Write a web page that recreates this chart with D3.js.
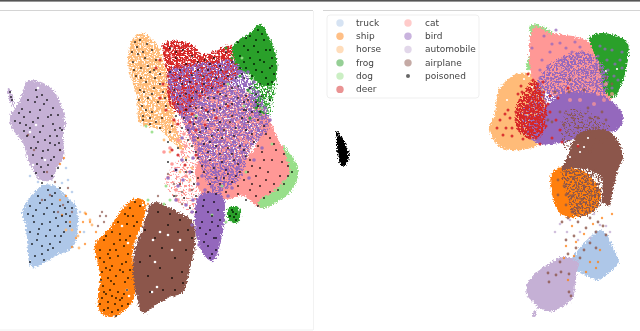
<!DOCTYPE html>
<html>
<head>
<meta charset="utf-8">
<script src="https://cdn.jsdelivr.net/npm/d3@7"></script>
<style>
  html, body { margin: 0; padding: 0; background: #fff; }
  svg { display: block; }
  text { font-family: "DejaVu Sans", sans-serif; }
</style>
</head>
<body>
<div id="chart"></div>
<script>
// legend order, two columns
const classNames = ["truck", "ship", "horse", "frog", "dog", "deer", "cat", "bird", "automobile", "airplane", "poisoned"];
const classColors = ["#aec7e8", "#ff7f0e", "#ffbb78", "#2ca02c", "#98df8a", "#d62728", "#ff9896", "#9467bd", "#c5b0d5", "#8c564b", "#000000"];

// cluster outlines, embedding units
const leftAutomobile = [[37,81],[46,85],[53,90],[62,107],[65,122],[63,137],[64,157],[57,168],[52,180],[40,180],[33,170],[28,160],[23,143],[12,128],[10,117],[20,100],[28,81]];
const leftAutoTail = [[8,88],[10,89],[14,104],[12,106]];
const leftTruck = [[22,212],[43,185],[55,186],[63,193],[75,205],[78,222],[72,248],[57,255],[32,267],[27,238],[25,222]];
const leftShip = [[137,198],[145,203],[143,222],[133,248],[134,298],[123,312],[110,317],[99,310],[100,275],[95,245],[110,228],[123,208]];
const leftAirplane = [[157,202],[170,208],[193,222],[195,245],[190,268],[183,292],[170,297],[160,302],[143,313],[137,298],[133,275],[135,248],[143,228],[150,205]];
const leftHorse = [[142,33],[157,45],[166,70],[172,100],[176,125],[184,150],[173,143],[160,130],[140,123],[137,97],[128,63],[132,40]];
const leftDeer = [[163,44],[173,41],[190,43],[203,54],[217,50],[232,46],[240,70],[225,85],[205,95],[185,115],[170,105],[167,72]];
const leftMid = [[174,95],[190,85],[230,85],[262,105],[268,125],[250,150],[240,178],[215,192],[205,178],[195,150],[182,120]];
const leftBird = [[168,72],[190,64],[215,62],[233,60],[250,80],[262,100],[270,125],[250,150],[240,178],[215,192],[205,178],[195,150],[182,120],[172,100]];
const leftBirdTail = [[200,195],[222,195],[222,235],[213,261],[204,255],[195,225]];
const leftCat = [[265,113],[280,143],[296,165],[297,178],[288,192],[262,208],[243,196],[225,200],[205,199],[195,172],[200,160],[230,165],[255,148]];
const leftSparse = [[172,118],[190,125],[200,160],[205,195],[196,215],[176,200],[165,180],[182,150]];
const leftDog = [[283,146],[298,167],[298,176],[290,192],[262,208],[258,202],[278,188],[290,172]];
const leftFrog = [[260,24],[268,35],[276,55],[277,73],[272,85],[262,85],[250,75],[240,70],[232,50],[235,43],[250,33]];
const leftFrogLow = [[250,72],[275,72],[273,100],[268,116],[256,112],[252,92]];
const leftFrogSmall = [[230,207],[238,207],[240,218],[235,224],[227,216]];

const rightHorse = [[520,73],[540,80],[540,143],[502,148],[490,130],[495,113],[500,88]];
const rightDog = [[531,25],[550,30],[553,37],[534,67],[527,70],[531,45]];
const rightCat = [[534,27],[550,33],[577,37],[590,43],[607,67],[613,97],[590,110],[537,83],[530,67]];
const rightFrog = [[590,37],[603,33],[627,42],[628,57],[623,80],[613,98],[604,90],[600,65],[592,48]];
const rightDeer = [[533,80],[545,100],[545,128],[538,138],[520,134],[516,108],[525,90]];
const rightBird = [[553,62],[587,52],[607,73],[607,100],[622,113],[620,127],[607,133],[573,140],[537,143],[520,125],[533,90]];
const rightBirdLow = [[560,95],[600,95],[622,113],[620,127],[607,133],[573,140],[537,143],[528,125],[545,110]];
const rightAirplane = [[610,132],[623,155],[618,170],[612,195],[610,205],[602,202],[603,192],[600,175],[575,168],[562,170],[567,157],[580,133]];
const rightAirTop = [[566,110],[600,118],[612,132],[590,150],[565,150]];
const rightShip = [[558,168],[570,168],[585,172],[600,190],[600,198],[595,210],[577,217],[562,215],[553,198],[551,175]];
const rightAirOverShip = [[563,168],[600,172],[604,195],[595,212],[575,216],[566,192]];
const rightTruck = [[600,230],[607,235],[613,248],[619,262],[610,272],[597,280],[580,272],[568,268],[578,250],[590,238]];
const rightAutomobile = [[563,257],[578,262],[577,272],[575,285],[573,298],[560,308],[548,312],[538,308],[535,317],[532,315],[537,307],[527,295],[528,282],[542,268],[552,262]];
const poisonBlob = [[337,131],[345,143],[349,155],[347,163],[342,166],[338,157],[337,143]];

// gaps seen inside the clusters
const leftWhite = [[150,97],[146,103],[155,108],[148,118],[160,112],[178,130],[172,135],[172,48],[167,53],[153,240],[160,232],[155,262],[172,250],[168,235],[180,240],[152,292],[157,287],[127,290],[129,296],[143,205],[147,213],[38,88],[36,125],[30,132],[45,160],[33,165],[122,226],[128,243]];
const rightWhite = [[573,140],[578,145],[584,147],[580,152],[588,138],[524,79],[529,76],[507,100],[532,87],[606,71],[617,69],[570,157]];

// scattered class points
const leftBirdPts = [[176,70],[183,74],[170,82],[192,68],[198,78],[206,72],[178,88],[188,92],[196,96],[172,97],[180,107],[190,110],[200,104],[210,92],[220,80],[228,68],[238,72],[245,84],[232,92],[214,106],[224,112],[238,104],[252,98],[256,116],[244,124],[228,126],[212,124],[198,122],[206,138],[220,142],[234,142],[248,138],[258,130],[214,154],[226,158],[200,150],[188,128],[194,140],[205,162],[216,172],[202,176],[212,186],[232,172],[205,190],[220,190],[198,184],[190,172],[182,160],[176,200],[186,205],[192,212],[198,200],[208,204],[214,212],[206,222],[216,228],[204,236],[212,246],[218,240],[200,214],[210,252],[193,200],[178,186],[168,178],[176,170],[183,180],[240,160],[254,160],[262,148],[232,188],[244,150],[262,118],[250,110],[240,116],[216,96],[204,116],[186,100],[198,88],[236,132],[222,134],[208,146],[187,118],[182,138],[193,158],[203,128],[215,142],[226,168],[238,168],[249,178],[232,150],[243,92],[255,105],[265,108],[270,120],[258,92],[248,72],[254,82],[234,80],[224,98],[193,128],[180,95],[220,200],[228,196],[192,225],[197,232],[199,245]];
const leftDeerPts = [[165,52],[172,46],[180,48],[188,46],[195,50],[202,58],[210,56],[218,52],[228,48],[170,62],[178,60],[186,58],[194,62],[202,68],[212,62],[222,58],[168,76],[176,80],[186,76],[196,84],[208,80],[184,88],[170,92],[190,100],[180,112],[200,96],[174,120],[190,122],[212,72],[178,66],[160,60],[156,68],[163,84],[160,98],[196,130],[206,110],[218,92],[226,72],[172,150],[185,165],[178,155],[196,155],[178,124],[205,125],[216,118],[228,106],[192,114],[166,110],[174,104]];
const leftCatPts = [[178,140],[186,146],[170,148],[182,152],[196,148],[210,132],[224,150],[240,138],[258,122],[262,138],[268,158],[250,170],[270,180],[240,188],[226,178],[208,168],[232,196],[250,196],[190,190],[178,200],[198,166],[172,164],[186,176],[164,152],[256,188],[268,194],[278,162],[284,172],[176,190],[205,122],[220,118],[184,134],[246,142],[228,140],[238,122],[254,134],[214,128],[200,140],[198,110],[213,100],[262,128],[272,132]];
const leftDogPts = [[287,160],[292,170],[283,182],[275,190],[268,200],[246,172],[272,144],[164,204],[170,200],[148,200],[166,186],[212,215],[226,222],[262,108],[244,106],[228,84],[242,58],[250,92],[222,186],[146,126],[152,132],[196,116]];
const leftFrogPts = [[236,46],[244,60],[252,78],[258,92],[264,98],[270,88],[266,104],[256,108],[248,90],[240,76],[270,98],[272,78],[232,58],[226,48],[262,112],[250,118],[236,50],[258,100]];
const leftHorsePts = [[170,112],[160,118],[176,132],[180,148],[186,158],[170,152],[192,168],[180,172],[198,140],[164,140],[190,180],[85,213],[90,220],[78,236],[79,248],[72,230],[92,225],[66,230]];
const leftShipPts = [[86,214],[90,222],[96,232],[80,232],[85,244],[72,247],[76,238],[66,196],[60,200],[64,158],[60,164],[148,204],[141,211],[83,222],[62,215],[70,222]];
const leftAirplanePts = [[100,216],[104,222],[98,226],[106,216],[102,212],[63,205],[58,212],[50,195],[42,200],[68,188],[72,212],[176,196],[182,204],[174,184],[182,192],[168,174],[158,196],[192,190],[60,150],[28,135],[34,150],[47,172],[55,182]];
const leftTruckPts = [[68,180],[62,183],[72,192],[80,212],[84,232],[30,176],[38,182],[32,200],[66,168]];

const rightBirdPts = [[605,49],[598,56],[612,50],[622,52],[615,64],[607,60],[622,68],[618,80],[604,76],[612,88],[596,66],[580,47],[572,52],[560,43],[550,52],[542,60],[562,60],[584,70],[540,78],[532,48],[568,70],[596,84],[544,36],[556,30],[575,42],[600,46],[608,70],[590,58],[566,48],[552,44],[540,70],[548,66],[578,56],[614,76],[620,60]];
const rightCatPts = [[592,88],[598,94],[604,100],[588,80],[598,76],[612,94],[606,84],[576,76],[562,84],[580,100],[594,104],[570,100],[560,70]];
const rightDeerPts = [[533,80],[528,90],[536,92],[520,100],[526,106],[534,112],[542,104],[516,112],[524,118],[532,124],[540,120],[510,118],[518,126],[526,132],[536,138],[546,126],[550,112],[506,128],[500,120],[512,136],[530,138],[522,92],[544,92],[550,96],[538,84],[528,74],[558,98],[568,88],[560,130],[552,138],[578,146],[562,142],[540,144],[525,112],[530,104],[536,100],[519,110],[512,128],[503,135],[523,139],[545,112],[532,130],[541,132],[516,120],[521,86],[529,98],[539,110],[522,126],[536,118],[518,94],[548,104],[543,82],[508,110],[497,128],[505,114],[556,120]];
const rightAirplanePts = [[569,92],[584,90],[560,112],[573,118],[588,108],[598,118],[578,128],[564,125],[552,122],[584,140],[596,128],[606,120],[590,152],[574,160],[566,172],[574,178],[584,186],[564,186],[572,196],[582,200],[592,196],[566,205],[578,208],[598,190],[558,180],[568,218],[578,222],[562,222],[586,228],[596,232],[603,226],[590,243],[584,250],[596,248],[576,248],[568,254],[560,262],[580,258],[606,235],[556,275],[548,273],[561,272],[569,274],[549,282],[569,292],[571,296],[590,218],[598,222],[574,236],[566,240],[606,78],[612,84],[600,70],[570,80],[555,92],[548,120],[590,118],[602,112],[586,212],[572,212],[558,195],[590,205],[566,195]];
const rightShipPts = [[572,226],[584,234],[602,218],[566,246],[574,256],[564,258],[600,250],[598,262],[596,268],[590,262],[586,272],[568,280],[612,214],[593,224],[576,242]];
const rightGapPts = [[570,220],[560,224],[580,232],[590,238],[600,225],[606,226],[594,214],[567,232],[578,240],[555,232],[610,232]];

// poisoned samples, left panel only
const poisonPts = [[15,121],[20,123],[24,117],[30,112],[35,102],[42,95],[47,100],[53,108],[58,115],[36,90],[28,100],[22,109],[40,110],[48,117],[33,122],[43,126],[53,124],[60,128],[24,131],[30,128],[40,132],[50,136],[57,136],[62,130],[34,137],[45,140],[55,145],[60,150],[36,148],[48,150],[31,148],[42,158],[54,157],[37,164],[48,165],[58,168],[44,172],[36,173],[52,176],[10,92],[11,97],[12,100],
[42,183],[48,190],[55,193],[60,188],[38,196],[45,200],[52,204],[60,206],[68,202],[30,206],[36,210],[44,214],[54,212],[62,216],[28,214],[34,222],[42,224],[50,222],[58,226],[66,222],[72,208],[30,232],[38,234],[46,236],[55,236],[64,232],[70,226],[32,244],[42,246],[50,244],[60,242],[35,256],[42,254],[30,262],[48,250],[66,214],[52,196],
[135,202],[140,206],[130,208],[125,214],[133,216],[118,222],[127,224],[137,222],[112,232],[120,234],[130,236],[104,240],[114,244],[124,246],[100,250],[108,254],[118,256],[128,254],[104,262],[112,266],[122,264],[130,270],[102,272],[108,278],[116,276],[125,282],[103,286],[110,290],[118,292],[127,290],[102,298],[108,302],[115,304],[122,298],[104,310],[112,312],[118,310],[128,304],[100,304],[106,294],[123,272],[114,284],[110,270],[120,300],[101,280],
[145,230],[155,238],[168,225],[178,232],[188,230],[150,256],[162,248],[175,258],[186,250],[148,276],[160,268],[172,278],[182,272],[150,292],[163,290],[175,290],[183,283],[140,262],[192,238],[158,212],[170,214],[180,220],
[135,42],[140,40],[147,44],[152,50],[132,52],[138,54],[145,58],[156,60],[133,62],[141,68],[150,72],[160,74],[136,76],[146,82],[154,88],[163,92],[140,90],[148,98],[158,102],[166,106],[142,106],[152,112],[162,118],[143,116],[150,124],[160,128],[143,120],[170,132],[178,148],[168,142],[172,126],[139,100],
[170,48],[183,50],[192,56],[205,60],[214,58],[226,52],[176,58],[186,64],[198,70],[208,70],[220,66],[232,62],[170,72],[180,78],[190,82],[204,84],[216,78],[228,76],[240,68],[174,90],[186,94],[196,92],[208,98],[220,94],[232,88],[244,78],[178,104],[190,106],[202,108],[214,110],[226,104],[238,98],[250,88],[184,118],[196,118],[208,120],[220,122],[232,116],[244,110],[256,102],[188,130],[200,132],[212,136],[224,130],[236,128],[248,122],[260,112],[192,146],[204,144],[216,146],[228,148],[240,146],[252,134],[264,126],[186,160],[198,158],[210,160],[222,162],[234,160],[246,156],[258,146],[270,138],[192,172],[204,172],[216,178],[228,174],[240,172],[252,166],[264,160],[276,150],[180,184],[194,184],[208,192],[220,184],[232,182],[244,180],[256,176],[268,172],[282,162],[288,176],[260,186],[274,184],[264,198],[258,206],[250,190],[278,190],[238,194],[288,166],
[204,200],[214,202],[208,212],[218,210],[202,222],[212,222],[218,226],[206,234],[214,238],[208,246],[216,250],[210,258],[196,212],[232,210],[236,214],[230,216],[236,220],[174,196],[184,198],[190,208],[196,196],
[250,36],[258,30],[264,40],[244,46],[254,46],[266,50],[272,58],[240,56],[250,58],[260,60],[270,68],[246,68],[256,70],[266,78],[260,84],[272,82],[238,42],[268,92],[256,94],[248,100]];

// second pass over the denser parts of the poisoned cloud
const poisonDense = [[19,113],[26,125],[37,97],[44,104],[51,115],[38,118],[55,130],[27,136],[38,142],[50,143],[59,143],[43,151],[33,155],[51,160],[41,167],
[47,208],[56,218],[39,229],[61,236],[53,248],[37,240],[44,260],[70,216],[33,216],[50,230],[40,203],[65,208],
[106,236],[116,250],[126,262],[110,258],[120,270],[106,268],[128,278],[112,296],[124,294],[108,308],[116,298],[104,292],[122,306],[116,316],[110,250],[100,258],[134,226],[128,216],[120,240],[126,240],[111,281],
[137,47],[143,52],[134,70],[148,66],[155,78],[144,92],[160,84],[152,94],[146,110],[156,122],[165,98],[141,78],[150,118],[154,70],
[176,52],[198,62],[210,64],[221,70],[180,70],[192,75],[203,76],[212,88],[224,84],[236,78],[182,84],[192,98],[202,92],[214,98],[226,96],[238,86],[246,96],[180,96],[196,108],[208,112],[220,108],[232,104],[244,102],[186,110],[194,124],[206,128],[218,130],[230,122],[242,118],[252,112],[198,138],[210,142],[222,138],[234,136],[246,130],[258,120],[196,152],[208,152],[220,154],[232,154],[244,150],[254,142],[266,134],[202,166],[214,168],[226,170],[238,164],[250,160],[262,152],[274,144],[198,178],[210,184],[224,178],[236,176],[248,172],[260,168],[272,160],[284,154],[226,192],[238,186],[252,184],[266,180],[280,176],[292,172],[270,192],[256,196],[246,200],[284,184],[216,194],[188,140],[182,128],[176,116],[168,162],[176,170],[186,172],
[262,34],[256,40],[246,38],[270,50],[258,52],[248,50],[264,62],[254,64],[244,62],[272,66],[262,72],[252,76],[274,74],[242,74],[268,84],[262,96],[270,100],[258,106],[246,110],
[203,206],[212,216],[200,228],[210,230],[216,238],[204,242],[212,254],[220,220],[233,212],[234,217]];

const chartW = 640, chartH = 331;
const x = d3.scaleLinear().domain([0, 640]).range([0, chartW]);
const y = d3.scaleLinear().domain([0, 331]).range([0, chartH]);
const color = d3.scaleOrdinal(classNames, classColors);

const svg = d3.select("#chart").append("svg")
    .attr("width", chartW)
    .attr("height", chartH);

const defs = svg.append("defs");

defs.append("filter")
    .attr("id", "soft")
    .append("feGaussianBlur")
    .attr("stdDeviation", 0.45);

// rough edge for a filled cluster, with speckled holes if holes > 0
function grainFilter(id, seed, holes) {
    let f = defs.append("filter")
        .attr("id", id)
        .attr("filterUnits", "userSpaceOnUse")
        .attr("x", 0).attr("y", 0)
        .attr("width", chartW).attr("height", chartH);
    f.append("feTurbulence")
        .attr("type", "fractalNoise")
        .attr("baseFrequency", 0.55)
        .attr("numOctaves", 2)
        .attr("seed", seed)
        .attr("result", "noise");
    f.append("feDisplacementMap")
        .attr("in", "SourceGraphic")
        .attr("in2", "noise")
        .attr("scale", 6)
        .attr("xChannelSelector", "R")
        .attr("yChannelSelector", "G")
        .attr("result", "rough");
    if (holes > 0) {
        f.append("feColorMatrix")
            .attr("in", "noise")
            .attr("type", "matrix")
            .attr("values", "0 0 0 0 0  0 0 0 0 0  0 0 0 0 0  0 0 9 0 " + (-9 * holes))
            .attr("result", "mask");
        f.append("feComposite")
            .attr("in", "rough")
            .attr("in2", "mask")
            .attr("operator", "in");
    }
}
grainFilter("grain", 4, 0);
grainFilter("light", 9, 0.36);
grainFilter("mottleA", 17, 0.38);
grainFilter("mottleB", 23, 0.43);
grainFilter("mottleC", 41, 0.46);
grainFilter("sparse", 31, 0.54);

// page furniture around the two axes
svg.append("rect").attr("x", 0).attr("y", 0).attr("width", chartW).attr("height", 1.6).attr("fill", "#555");
svg.append("line").attr("x1", 0).attr("x2", 313).attr("y1", 10.5).attr("y2", 10.5).attr("stroke", "#d4d4d4");
svg.append("line").attr("x1", 323).attr("x2", 640).attr("y1", 10.5).attr("y2", 10.5).attr("stroke", "#d4d4d4");
svg.append("line").attr("x1", 313.5).attr("x2", 313.5).attr("y1", 11).attr("y2", 330).attr("stroke", "#f2f2f2");
svg.append("line").attr("x1", 0).attr("x2", 313).attr("y1", 330).attr("y2", 330).attr("stroke", "#f0f0f0");

const marks = svg.append("g").attr("filter", "url(#soft)");

const outline = d3.line()
    .x(d => x(d[0]))
    .y(d => y(d[1]))
    .curve(d3.curveCatmullRomClosed.alpha(0.5));

const regions = [
    ["automobile", leftAutomobile, "grain"], ["automobile", leftAutoTail, "grain"], ["truck", leftTruck, "grain"],
    ["ship", leftShip, "grain"], ["airplane", leftAirplane, "grain"], ["horse", leftHorse, "light"],
    ["cat", leftSparse, "sparse"], ["cat", leftCat, "grain"], ["dog", leftDog, "grain"], ["cat", leftMid, "light"], ["deer", leftDeer, "mottleA"],
    ["frog", leftFrog, "grain"], ["frog", leftFrogLow, "mottleC"], ["bird", leftBird, "mottleB"], ["bird", leftBirdTail, "grain"], ["frog", leftFrogSmall, "grain"],
    ["horse", rightHorse, "grain"], ["dog", rightDog, "grain"], ["cat", rightCat, "grain"], ["frog", rightFrog, "grain"],
    ["bird", rightBird, "mottleB"], ["bird", rightBirdLow, "grain"], ["deer", rightDeer, "mottleA"],
    ["ship", rightShip, "grain"], ["airplane", rightAirplane, "grain"], ["airplane", rightAirOverShip, "mottleC"], ["airplane", rightAirTop, "sparse"],
    ["truck", rightTruck, "grain"], ["automobile", rightAutomobile, "grain"]
];

marks.selectAll("path.region")
    .data(regions)
    .enter()
    .append("path")
    .attr("class", "region")
    .attr("d", d => outline(d[1]))
    .attr("fill", d => color(d[0]))
    .attr("filter", d => "url(#" + d[2] + ")");

marks.append("path")
    .attr("d", outline(poisonBlob))
    .attr("fill", "#000")
    .attr("filter", "url(#grain)");

function dots(list, cls, r, op) {
    marks.append("g")
        .selectAll("circle")
        .data(list)
        .enter()
        .append("circle")
        .attr("cx", d => x(d[0]))
        .attr("cy", d => y(d[1]))
        .attr("r", r)
        .attr("fill", cls === "white" ? "#fff" : color(cls))
        .attr("fill-opacity", op);
}

dots(leftWhite, "white", 1.3, 1);
dots(rightWhite, "white", 1.1, 1);
dots(leftDogPts, "dog", 1.5, 0.9);
dots(leftCatPts, "cat", 1.8, 0.95);
dots(leftDeerPts, "deer", 1.6, 0.9);
dots(leftHorsePts, "horse", 1.4, 0.9);
dots(leftShipPts, "ship", 1.2, 0.7);
dots(leftTruckPts, "truck", 1.3, 0.8);
dots(leftFrogPts, "frog", 1.5, 0.9);
dots(leftBirdPts, "bird", 1.8, 0.9);
dots(leftAirplanePts, "airplane", 1.2, 0.7);
dots(rightCatPts, "cat", 2, 0.7);
dots(rightBirdPts, "bird", 1.6, 0.75);
dots(rightDeerPts, "deer", 1.5, 0.9);
dots(rightGapPts, "automobile", 1.3, 0.8);
dots(rightShipPts, "ship", 1.2, 0.75);
dots(rightAirplanePts, "airplane", 1.4, 0.8);
dots(poisonPts, "poisoned", 0.95, 0.85);
dots(poisonDense, "poisoned", 0.95, 0.85);

// legend
const legend = svg.append("g");
legend.append("rect")
    .attr("x", 327).attr("y", 15)
    .attr("width", 152).attr("height", 83)
    .attr("rx", 3)
    .attr("fill", "#fff")
    .attr("stroke", "#efefef");

const legendRow = d3.scalePoint().domain(d3.range(6)).range([23, 89.4]);
const items = legend.selectAll("g.item")
    .data(classNames)
    .enter()
    .append("g")
    .attr("class", "item")
    .attr("transform", (d, i) => "translate(" + (i < 6 ? 340 : 408) + "," + legendRow(i < 6 ? i : i - 6) + ")");

items.append("circle")
    .attr("r", d => d === "poisoned" ? 2 : 3.7)
    .attr("fill", d => color(d))
    .attr("fill-opacity", d => d === "poisoned" ? 0.6 : 0.5);

items.append("text")
    .attr("x", (d, i) => i < 6 ? 16 : 17)
    .attr("dy", "0.32em")
    .attr("font-size", 9)
    .attr("fill", "#444")
    .text(d => d);
</script>
</body>
</html>
